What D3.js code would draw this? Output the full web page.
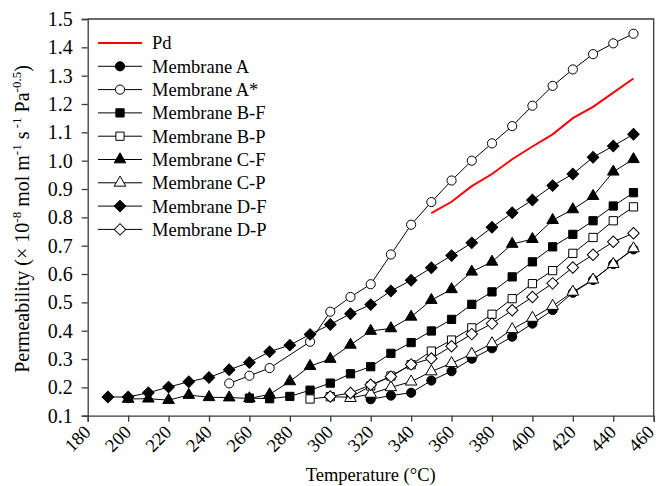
<!DOCTYPE html>
<html>
<head>
<meta charset="utf-8">
<script src="https://cdn.jsdelivr.net/npm/d3@7"></script>
<style>
  body { margin: 0; background: #fff; }
  svg text { font-family: "Liberation Serif", "Times New Roman", serif; fill: #000; }
</style>
</head>
<body>
<div id="chart"></div>
<script>
const width = 659;
const height = 486;

// temperatures (°C) and permeability values
const tempPd = [350, 360, 370, 380, 390, 400, 410, 420, 430, 440, 450];
const valPd = [0.815, 0.855, 0.91, 0.953, 1.005, 1.05, 1.093, 1.15, 1.19, 1.24, 1.29];

const tempA = [320, 330, 340, 350, 360, 370, 380, 390, 400, 410, 420, 430, 440, 450];
const valA = [0.158, 0.171, 0.181, 0.224, 0.257, 0.301, 0.338, 0.379, 0.425, 0.473, 0.534, 0.579, 0.635, 0.687];

const tempAs = [250, 260, 270, 290, 300, 310, 320, 330, 340, 350, 360, 370, 380, 390, 400, 410, 420, 430, 440, 450];
const valAs = [0.214, 0.241, 0.268, 0.361, 0.467, 0.519, 0.564, 0.669, 0.774, 0.854, 0.93, 1.0, 1.061, 1.122, 1.194, 1.264, 1.322, 1.376, 1.414, 1.448];

const tempBF = [260, 270, 280, 290, 300, 310, 320, 330, 340, 350, 360, 370, 380, 390, 400, 410, 420, 430, 440, 450];
const valBF = [0.162, 0.16, 0.168, 0.19, 0.215, 0.248, 0.273, 0.32, 0.358, 0.399, 0.44, 0.493, 0.537, 0.59, 0.643, 0.696, 0.74, 0.788, 0.84, 0.887];

const tempBP = [290, 300, 310, 320, 330, 340, 350, 360, 370, 380, 390, 400, 410, 420, 430, 440, 450];
const valBP = [0.159, 0.167, 0.165, 0.205, 0.24, 0.28, 0.328, 0.367, 0.41, 0.458, 0.513, 0.566, 0.612, 0.673, 0.729, 0.788, 0.837];

const tempCF = [200, 210, 220, 230, 240, 250, 260, 270, 280, 290, 300, 310, 320, 330, 340, 350, 360, 370, 380, 390, 400, 410, 420, 430, 440, 450];
const valCF = [0.159, 0.16, 0.155, 0.173, 0.165, 0.164, 0.161, 0.175, 0.221, 0.275, 0.3, 0.35, 0.399, 0.408, 0.449, 0.508, 0.546, 0.608, 0.643, 0.706, 0.723, 0.79, 0.828, 0.875, 0.961, 1.005];

const tempCP = [310, 320, 330, 340, 350, 360, 370, 380, 390, 400, 410, 420, 430, 440, 450];
const valCP = [0.162, 0.177, 0.2, 0.22, 0.256, 0.285, 0.318, 0.355, 0.405, 0.445, 0.487, 0.537, 0.58, 0.635, 0.69];

const tempDF = [190, 200, 210, 220, 230, 240, 250, 260, 270, 280, 290, 300, 310, 320, 330, 340, 350, 360, 370, 380, 390, 400, 410, 420, 430, 440, 450];
const valDF = [0.166, 0.166, 0.181, 0.201, 0.22, 0.235, 0.262, 0.288, 0.326, 0.349, 0.387, 0.422, 0.46, 0.492, 0.54, 0.578, 0.622, 0.665, 0.71, 0.765, 0.816, 0.861, 0.912, 0.953, 1.012, 1.052, 1.093];

const tempDP = [300, 310, 320, 330, 340, 350, 360, 370, 380, 390, 400, 410, 420, 430, 440, 450];
const valDP = [0.168, 0.18, 0.209, 0.238, 0.281, 0.302, 0.345, 0.388, 0.425, 0.472, 0.519, 0.567, 0.623, 0.668, 0.714, 0.744];

const seriesNames = ["Membrane A", "Membrane A*", "Membrane B-F", "Membrane B-P",
                     "Membrane C-F", "Membrane C-P", "Membrane D-F", "Membrane D-P"];
const xTicks = [180, 200, 220, 240, 260, 280, 300, 320, 340, 360, 380, 400, 420, 440, 460];
const yTicks = [0.1, 0.2, 0.3, 0.4, 0.5, 0.6, 0.7, 0.8, 0.9, 1.0, 1.1, 1.2, 1.3, 1.4, 1.5];

const membranes = [
    { name: seriesNames[0], t: tempA,  v: valA,  shape: "circle",   fill: "#000" },
    { name: seriesNames[1], t: tempAs, v: valAs, shape: "circle",   fill: "#fff" },
    { name: seriesNames[2], t: tempBF, v: valBF, shape: "square",   fill: "#000" },
    { name: seriesNames[3], t: tempBP, v: valBP, shape: "square",   fill: "#fff" },
    { name: seriesNames[4], t: tempCF, v: valCF, shape: "triangle", fill: "#000" },
    { name: seriesNames[5], t: tempCP, v: valCP, shape: "triangle", fill: "#fff" },
    { name: seriesNames[6], t: tempDF, v: valDF, shape: "diamond",  fill: "#000" },
    { name: seriesNames[7], t: tempDP, v: valDP, shape: "diamond",  fill: "#fff" }
];

const plot = { left: 87.7, right: 653.7, top: 19, bottom: 415.7 };
const fontSize = 18.5;

const x = d3.scaleLinear().domain([180, 460]).range([plot.left, plot.right]);
const y = d3.scaleLinear().domain([0.1, 1.5]).range([plot.bottom, plot.top]);

const svg = d3.select("#chart")
    .append("svg")
    .attr("width", width)
    .attr("height", height);

// marker generators (diamonds are squares turned 45°)
const symbolFor = {
    circle: d3.symbol().type(d3.symbolCircle).size(66),
    square: d3.symbol().type(d3.symbolSquare).size(68),
    triangle: d3.symbol().type(d3.symbolTriangle).size(58),
    diamond: d3.symbol().type(d3.symbolSquare).size(66)
};

function drawMarker(sel, shape, fill) {
    sel.attr("d", symbolFor[shape]())
        .attr("fill", fill)
        .attr("stroke", "#000")
        .attr("stroke-width", 1);
}

// frame (top and right)
svg.append("path")
    .attr("d", `M${plot.left},${plot.top}H${plot.right}V${plot.bottom}`)
    .attr("fill", "none")
    .attr("stroke", "#3a3a3a")
    .attr("stroke-width", 1.3);

// axes
const xAxis = svg.append("g")
    .attr("transform", `translate(0,${plot.bottom})`)
    .call(d3.axisBottom(x).tickValues(xTicks).tickSize(6).tickFormat(d3.format("d")));
xAxis.selectAll("text")
    .attr("font-size", fontSize)
    .attr("text-anchor", "end")
    .attr("x", 0)
    .attr("y", 0)
    .attr("dy", "0.35em")
    // last label sits at the page edge, nudge it in a little
    .attr("transform", d => `translate(${d === 460 ? -3.5 : -1},13) rotate(-45)`);

const yAxis = svg.append("g")
    .attr("transform", `translate(${plot.left},0)`)
    .call(d3.axisLeft(y).tickValues(yTicks).tickSize(6).tickPadding(9).tickFormat(d3.format(".1f")));
yAxis.selectAll("text").attr("font-size", 20);

[xAxis, yAxis].forEach(a => {
    a.select(".domain").attr("stroke", "#3a3a3a").attr("stroke-width", 1.3);
    a.selectAll(".tick line").attr("stroke", "#3a3a3a").attr("stroke-width", 1.3);
    a.attr("font-family", null);
});

// Pd reference line
svg.append("path")
    .datum(tempPd.map((t, i) => [t, valPd[i]]))
    .attr("fill", "none")
    .attr("stroke", "#ff0000")
    .attr("stroke-width", 2)
    .attr("d", d3.line().x(d => x(d[0])).y(d => y(d[1])));

// membrane series
const line = d3.line().x(d => x(d[0])).y(d => y(d[1]));
membranes.forEach(m => {
    const pts = m.t.map((t, i) => [t, m.v[i]]);
    const g = svg.append("g");
    g.append("path")
        .datum(pts)
        .attr("fill", "none")
        .attr("stroke", "#000")
        .attr("stroke-width", 1)
        .attr("d", line);
    g.selectAll("path.mk")
        .data(pts)
        .enter()
        .append("path")
        .attr("class", "mk")
        .attr("transform", d => `translate(${x(d[0])},${y(d[1])})` + (m.shape === "diamond" ? " rotate(45)" : ""))
        .call(drawMarker, m.shape, m.fill);
});

// legend
const legend = svg.append("g").attr("transform", "translate(98,43)");
const rowH = 23.3;
const legendItems = [{ name: "Pd", pd: true }].concat(membranes);
legendItems.forEach((d, i) => {
    const row = legend.append("g").attr("transform", `translate(0,${i * rowH})`);
    row.append("line")
        .attr("x1", 0).attr("x2", 44)
        .attr("stroke", d.pd ? "#ff0000" : "#000")
        .attr("stroke-width", d.pd ? 2 : 1);
    if (!d.pd) {
        row.append("path")
            .attr("transform", "translate(22,0)" + (d.shape === "diamond" ? " rotate(45)" : ""))
            .call(drawMarker, d.shape, d.fill);
    }
    row.append("text")
        .attr("x", 54)
        .attr("dy", "0.35em")
        .attr("font-size", fontSize)
        .text(d.name);
});

// axis titles
svg.append("text")
    .attr("x", (plot.left + plot.right) / 2)
    .attr("y", 481)
    .attr("text-anchor", "middle")
    .attr("font-size", fontSize)
    .text("Temperature (°C)");

const yTitle = svg.append("text")
    .attr("transform", `translate(29,219) rotate(-90)`)
    .attr("text-anchor", "middle")
    .attr("font-size", 20);
yTitle.append("tspan").text("Permeability (× 10");
yTitle.append("tspan").attr("font-size", 13).attr("dy", -8).text("-8");
yTitle.append("tspan").attr("dy", 8).text(" mol m");
yTitle.append("tspan").attr("font-size", 13).attr("dy", -8).text("-1");
yTitle.append("tspan").attr("dy", 8).text(" s");
yTitle.append("tspan").attr("font-size", 13).attr("dy", -8).text(" -1");
yTitle.append("tspan").attr("dy", 8).text(" Pa");
yTitle.append("tspan").attr("font-size", 13).attr("dy", -8).text("-0.5");
yTitle.append("tspan").attr("dy", 8).text(")");
</script>
</body>
</html>
